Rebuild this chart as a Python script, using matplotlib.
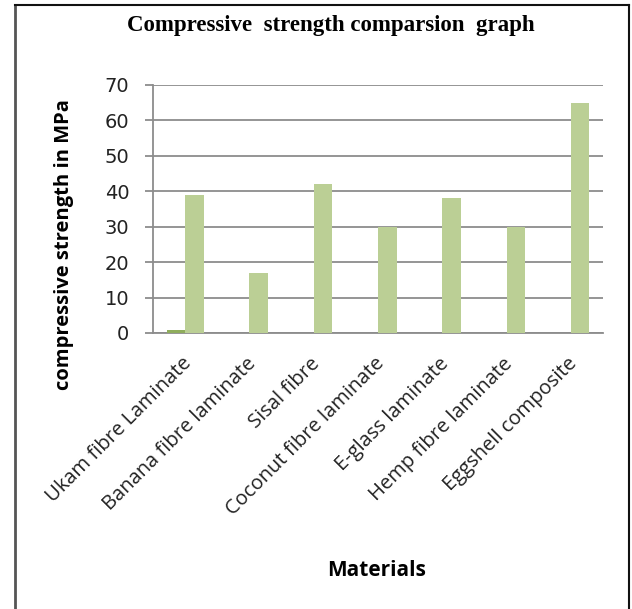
import matplotlib
matplotlib.use("Agg")
import matplotlib.pyplot as plt
from matplotlib.lines import Line2D
import numpy as np

materials = ["Ukam fibre Laminate", "Banana fibre laminate", "Sisal fibre",
             "Coconut fibre laminate", "E-glass laminate", "Hemp fibre laminate",
             "Eggshell composite"]
series_a = [0.8, 0, 0, 0, 0, 0, 0]
series_b = [39, 17, 42, 30, 38, 30, 65]
y_ticks = [0, 10, 20, 30, 40, 50, 60, 70]

W, H = 632, 609
fig = plt.figure(figsize=(W / 100, H / 100), dpi=100)

# outer frame (open at the bottom)
fig.add_artist(Line2D([15 / W, 15 / W], [0, 1 - 4.5 / H], transform=fig.transFigure,
                      color="#555555", lw=2.0))
fig.add_artist(Line2D([15 / W, 629 / W], [1 - 4.5 / H, 1 - 4.5 / H], transform=fig.transFigure,
                      color="#111111", lw=1.5))
fig.add_artist(Line2D([629 / W, 629 / W], [0, 1 - 4.5 / H], transform=fig.transFigure,
                      color="#111111", lw=1.5))

ax_l, ax_r, ax_t, ax_b = 153, 603, 85, 333
ax = fig.add_axes([ax_l / W, 1 - ax_b / H, (ax_r - ax_l) / W, (ax_b - ax_t) / H])

x = np.arange(len(materials))
w = 0.29
ax.bar(x - w / 2, series_a, w, color="#8FAD5C", zorder=3)
ax.bar(x + w / 2, series_b, w, color="#BBCF95", zorder=3)

ax.set_xlim(-0.5, len(materials) - 0.5)
ax.set_ylim(0, 70)
ax.set_yticks(y_ticks)
ax.yaxis.grid(True, color="#8C8C8C", lw=1.3, zorder=0)
ax.set_axisbelow(True)
for s in ["top", "right"]:
    ax.spines[s].set_visible(False)
ax.spines["left"].set_color("#8C8C8C")
ax.spines["left"].set_linewidth(1.3)
ax.spines["bottom"].set_color("#8C8C8C")
ax.spines["bottom"].set_linewidth(1.3)
ax.tick_params(axis="y", length=6, width=1.3, color="#8C8C8C", pad=11,
               labelsize=14, labelcolor="#222222")
ax.tick_params(axis="x", length=0, pad=20)
for lbl in ax.get_yticklabels():
    lbl.set_family("DejaVu Sans")

ax.set_xticks(x + 0.05)
ax.set_xticklabels(materials, rotation=45, ha="right", va="center",
                   rotation_mode="anchor", fontsize=14.5, family="Open Sans",
                   color="#222222")

fig.text(331 / W, 1 - 25 / H, "Compressive  strength comparsion  graph",
         ha="center", va="center", family="Liberation Serif", fontweight="bold",
         fontsize=16.5)
fig.text(64 / W, 1 - 245 / H, "compressive strength in MPa", rotation=90,
         ha="center", va="center", family="Open Sans", fontweight="bold", fontsize=14.5)
fig.text(377 / W, 1 - 570 / H, "Materials", ha="center", va="center",
         family="Open Sans", fontweight="bold", fontsize=15)

fig.savefig("out.png", dpi=100)
